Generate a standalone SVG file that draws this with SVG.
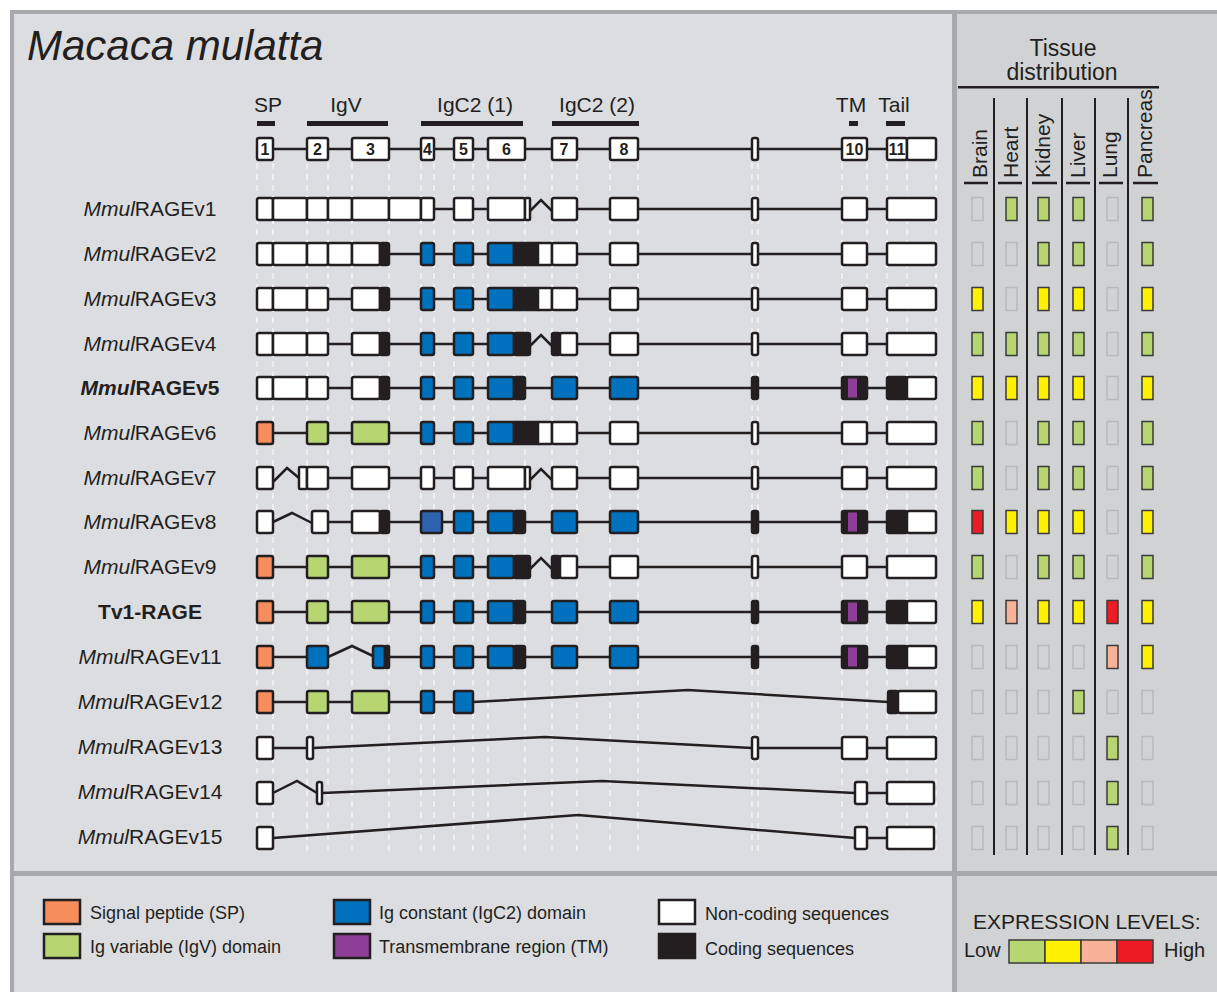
<svg xmlns="http://www.w3.org/2000/svg" width="1217" height="992" viewBox="0 0 1217 992">
<style>
text{font-family:"Liberation Sans",Arial,sans-serif;fill:#231f20}
.lab{font-size:21px;text-anchor:middle}
.hd{font-size:21px;text-anchor:middle}
.num{font-family:"Liberation Sans Narrow","Liberation Sans",sans-serif;font-size:16px;font-weight:bold;text-anchor:middle}
.e{stroke:#231f20;stroke-width:2.5}
.w{fill:#fff}.k{fill:#231f20}.b{fill:#0071bc}.db{fill:#2f63b0}.g{fill:#b7d672}.o{fill:#f68d5d}.pu{fill:#8e3e97}
.ln{fill:none;stroke:#231f20;stroke-width:2.5}
.gd{stroke:#f4f4f4;stroke-width:1.5;stroke-dasharray:6 5}
.x{stroke:#3a3a3a;stroke-width:1.5}
.xn{fill:none;stroke:#b8b9bb;stroke-width:1.5}
.G{fill:#b7d672}.Y{fill:#fff200}.S{fill:#f9b29a}.R{fill:#ed1c24}
.leg{font-size:18px}
.col{font-size:21px}
</style>
<rect x="0" y="0" width="1217" height="992" fill="#ffffff"/>
<rect x="12" y="12" width="942" height="862" fill="#dcdde0"/>
<rect x="954" y="12" width="263" height="980" fill="#d1d2d4"/>
<rect x="12" y="874" width="942" height="118" fill="#dcdde0"/>
<rect x="10" y="10" width="1207" height="4" fill="#a7a9ac"/>
<rect x="10" y="10" width="4" height="982" fill="#a7a9ac"/>
<rect x="952" y="10" width="5" height="982" fill="#a7a9ac"/>
<rect x="10" y="871" width="1207" height="5" fill="#a7a9ac"/>

<text x="27" y="60" font-size="42" font-style="italic">Macaca mulatta</text>

<g id="guides">
<path class="gd" d="M257 163V853M273 163V853M307 163V853M328 163V853M352 163V853M389 163V853M421 163V853M434 163V853M454 163V853M473 163V853M488 163V853M525 163V853M552 163V853M577 163V853M610 163V853M638 163V853M752 163V853M758 163V853M842 163V853M867 163V853M887 163V853M907 163V853M936 163V853"/>
</g>

<g id="domain-header">
<text class="hd" x="268" y="112">SP</text>
<text class="hd" x="346" y="112">IgV</text>
<text class="hd" x="475" y="112">IgC2 (1)</text>
<text class="hd" x="597" y="112">IgC2 (2)</text>
<text class="hd" x="851" y="112">TM</text>
<text class="hd" x="894" y="112">Tail</text>
<rect x="257" y="121" width="18" height="5" fill="#231f20"/>
<rect x="307" y="121" width="81" height="5" fill="#231f20"/>
<rect x="421" y="121" width="102" height="5" fill="#231f20"/>
<rect x="552" y="121" width="87" height="5" fill="#231f20"/>
<rect x="849" y="121" width="9" height="5" fill="#231f20"/>
<rect x="886" y="121" width="19" height="5" fill="#231f20"/>
</g>

<g id="connectors">
<path class="ln" d="M273 149H307M328 149H352M389 149H421M434 149H454M473 149H488M525 149H552M577 149H610M638 149H752M758 149H842M867 149H887"/>
<path class="ln" d="M434 209H454M473 209H488M530 211L541 200L552 211M577 209H610M638 209H752M758 209H842M867 209H887"/>
<path class="ln" d="M389 254H421M434 254H454M473 254H488M577 254H610M638 254H752M758 254H842M867 254H887"/>
<path class="ln" d="M328 299H352M389 299H421M434 299H454M473 299H488M577 299H610M638 299H752M758 299H842M867 299H887"/>
<path class="ln" d="M328 344H352M389 344H421M434 344H454M473 344H488M530 346L541 335L552 346M577 344H610M638 344H752M758 344H842M867 344H887"/>
<path class="ln" d="M328 388H352M389 388H421M434 388H454M473 388H488M525 388H552M577 388H610M638 388H752M758 388H842M867 388H887"/>
<path class="ln" d="M273 433H307M328 433H352M389 433H421M434 433H454M473 433H488M577 433H610M638 433H752M758 433H842M867 433H887"/>
<path class="ln" d="M273 482L287 468L299 478M328 478H352M389 478H421M434 478H454M473 478H488M530 480L541 469L552 480M577 478H610M638 478H752M758 478H842M867 478H887"/>
<path class="ln" d="M273 522L292 513L312 523M328 522H352M389 522H421M442 522H454M473 522H488M525 522H552M577 522H610M638 522H752M758 522H842M867 522H887"/>
<path class="ln" d="M273 567H307M328 567H352M389 567H421M434 567H454M473 567H488M530 569L541 558L552 569M577 567H610M638 567H752M758 567H842M867 567H887"/>
<path class="ln" d="M273 612H307M328 612H352M389 612H421M434 612H454M473 612H488M525 612H552M577 612H610M638 612H752M758 612H842M867 612H887"/>
<path class="ln" d="M273 657H307M328 657L352 646L373 656M389 657H421M434 657H454M473 657H488M525 657H552M577 657H610M638 657H752M758 657H842M867 657H887"/>
<path class="ln" d="M273 702H307M328 702H352" stroke-width="3.5"/>
<path class="ln" d="M389 702H421M434 702H454M473 702L688 690L888 702"/>
<path class="ln" d="M273 748H307M313 748L545 737L752 748M758 748H842M867 748H887"/>
<path class="ln" d="M273 793L297 781L317 793M322 793L602 781L855 793M867 793H887"/>
<path class="ln" d="M273 838L578 815L855 838M867 838H887"/>
</g>

<g id="gene-structure">
<rect class="e w" x="257" y="138" width="16" height="22" rx="2"/>
<rect class="e w" x="307" y="138" width="21" height="22" rx="2"/>
<rect class="e w" x="352" y="138" width="37" height="22" rx="2"/>
<rect class="e w" x="421" y="138" width="13" height="22" rx="2"/>
<rect class="e w" x="454" y="138" width="19" height="22" rx="2"/>
<rect class="e w" x="488" y="138" width="37" height="22" rx="2"/>
<rect class="e w" x="552" y="138" width="25" height="22" rx="2"/>
<rect class="e w" x="610" y="138" width="28" height="22" rx="2"/>
<rect class="e w" x="752" y="138" width="6" height="22" rx="2"/>
<rect class="e w" x="842" y="138" width="25" height="22" rx="2"/>
<rect class="e w" x="887" y="138" width="20" height="22" rx="2"/>
<rect class="e w" x="907" y="138" width="29" height="22" rx="2"/>
<text class="num" x="265" y="155">1</text>
<text class="num" x="317.5" y="155">2</text>
<text class="num" x="370.5" y="155">3</text>
<text class="num" x="427.5" y="155">4</text>
<text class="num" x="463.5" y="155">5</text>
<text class="num" x="506.5" y="155">6</text>
<text class="num" x="564" y="155">7</text>
<text class="num" x="624" y="155">8</text>
<text class="num" x="854.5" y="155">10</text>
<text class="num" x="897" y="155">11</text>
</g>

<g id="v1">
<text class="lab" x="150" y="216"><tspan font-style="italic">Mmul</tspan>RAGEv1</text>
<rect class="e w" x="257" y="198" width="16" height="22" rx="2"/>
<rect class="e w" x="273" y="198" width="34" height="22" rx="2"/>
<rect class="e w" x="307" y="198" width="21" height="22" rx="2"/>
<rect class="e w" x="328" y="198" width="24" height="22" rx="2"/>
<rect class="e w" x="352" y="198" width="37" height="22" rx="2"/>
<rect class="e w" x="389" y="198" width="32" height="22" rx="2"/>
<rect class="e w" x="421" y="198" width="13" height="22" rx="2"/>
<rect class="e w" x="454" y="198" width="19" height="22" rx="2"/>
<rect class="e w" x="488" y="198" width="37" height="22" rx="2"/>
<rect class="e w" x="525" y="198" width="5" height="22" rx="1"/>
<rect class="e w" x="552" y="198" width="25" height="22" rx="2"/>
<rect class="e w" x="610" y="198" width="28" height="22" rx="2"/>
<rect class="e w" x="752" y="198" width="6" height="22" rx="2"/>
<rect class="e w" x="842" y="198" width="25" height="22" rx="2"/>
<rect class="e w" x="887" y="198" width="49" height="22" rx="2"/>
</g>

<g id="v2">
<text class="lab" x="150" y="261"><tspan font-style="italic">Mmul</tspan>RAGEv2</text>
<rect class="e w" x="257" y="243" width="16" height="22" rx="2"/>
<rect class="e w" x="273" y="243" width="34" height="22" rx="2"/>
<rect class="e w" x="307" y="243" width="21" height="22" rx="2"/>
<rect class="e w" x="328" y="243" width="24" height="22" rx="2"/>
<rect class="e w" x="352" y="243" width="28" height="22" rx="2"/>
<rect class="e k" x="380" y="243" width="9" height="22" rx="2"/>
<rect class="e b" x="421" y="243" width="13" height="22" rx="2"/>
<rect class="e b" x="454" y="243" width="19" height="22" rx="2"/>
<rect class="e b" x="488" y="243" width="26" height="22" rx="2"/>
<rect class="e k" x="514" y="243" width="24" height="22"/>
<rect class="e w" x="538" y="243" width="14" height="22" rx="1"/>
<rect class="e w" x="552" y="243" width="25" height="22" rx="2"/>
<rect class="e w" x="610" y="243" width="28" height="22" rx="2"/>
<rect class="e w" x="752" y="243" width="6" height="22" rx="2"/>
<rect class="e w" x="842" y="243" width="25" height="22" rx="2"/>
<rect class="e w" x="887" y="243" width="49" height="22" rx="2"/>
</g>

<g id="v3">
<text class="lab" x="150" y="306"><tspan font-style="italic">Mmul</tspan>RAGEv3</text>
<rect class="e w" x="257" y="288" width="16" height="22" rx="2"/>
<rect class="e w" x="273" y="288" width="34" height="22" rx="2"/>
<rect class="e w" x="307" y="288" width="21" height="22" rx="2"/>
<rect class="e w" x="352" y="288" width="28" height="22" rx="2"/>
<rect class="e k" x="380" y="288" width="9" height="22" rx="2"/>
<rect class="e b" x="421" y="288" width="13" height="22" rx="2"/>
<rect class="e b" x="454" y="288" width="19" height="22" rx="2"/>
<rect class="e b" x="488" y="288" width="26" height="22" rx="2"/>
<rect class="e k" x="514" y="288" width="24" height="22"/>
<rect class="e w" x="538" y="288" width="14" height="22" rx="1"/>
<rect class="e w" x="552" y="288" width="25" height="22" rx="2"/>
<rect class="e w" x="610" y="288" width="28" height="22" rx="2"/>
<rect class="e w" x="752" y="288" width="6" height="22" rx="2"/>
<rect class="e w" x="842" y="288" width="25" height="22" rx="2"/>
<rect class="e w" x="887" y="288" width="49" height="22" rx="2"/>
</g>

<g id="v4">
<text class="lab" x="150" y="351"><tspan font-style="italic">Mmul</tspan>RAGEv4</text>
<rect class="e w" x="257" y="333" width="16" height="22" rx="2"/>
<rect class="e w" x="273" y="333" width="34" height="22" rx="2"/>
<rect class="e w" x="307" y="333" width="21" height="22" rx="2"/>
<rect class="e w" x="352" y="333" width="28" height="22" rx="2"/>
<rect class="e k" x="380" y="333" width="9" height="22" rx="2"/>
<rect class="e b" x="421" y="333" width="13" height="22" rx="2"/>
<rect class="e b" x="454" y="333" width="19" height="22" rx="2"/>
<rect class="e b" x="488" y="333" width="26" height="22" rx="2"/>
<rect class="e k" x="514" y="333" width="16" height="22" rx="2"/>
<rect class="e k" x="552" y="333" width="8" height="22" rx="2"/>
<rect class="e w" x="560" y="333" width="17" height="22" rx="2"/>
<rect class="e w" x="610" y="333" width="28" height="22" rx="2"/>
<rect class="e w" x="752" y="333" width="6" height="22" rx="2"/>
<rect class="e w" x="842" y="333" width="25" height="22" rx="2"/>
<rect class="e w" x="887" y="333" width="49" height="22" rx="2"/>
</g>

<g id="v5">
<text class="lab" x="150" y="395" font-weight="bold"><tspan font-style="italic">Mmul</tspan>RAGEv5</text>
<rect class="e w" x="257" y="377" width="16" height="22" rx="2"/>
<rect class="e w" x="273" y="377" width="34" height="22" rx="2"/>
<rect class="e w" x="307" y="377" width="21" height="22" rx="2"/>
<rect class="e w" x="352" y="377" width="28" height="22" rx="2"/>
<rect class="e k" x="380" y="377" width="9" height="22" rx="2"/>
<rect class="e b" x="421" y="377" width="13" height="22" rx="2"/>
<rect class="e b" x="454" y="377" width="19" height="22" rx="2"/>
<rect class="e b" x="488" y="377" width="26" height="22" rx="2"/>
<rect class="e k" x="514" y="377" width="11" height="22" rx="2"/>
<rect class="e b" x="552" y="377" width="25" height="22" rx="2"/>
<rect class="e b" x="610" y="377" width="28" height="22" rx="2"/>
<rect class="e k" x="752" y="377" width="6" height="22" rx="2"/>
<rect class="e k" x="842" y="377" width="25" height="22" rx="2"/>
<rect class="pu" x="848" y="378.5" width="9" height="19"/>
<rect class="e k" x="887" y="377" width="20" height="22" rx="2"/>
<rect class="e w" x="907" y="377" width="29" height="22" rx="2"/>
</g>

<g id="v6">
<text class="lab" x="150" y="440"><tspan font-style="italic">Mmul</tspan>RAGEv6</text>
<rect class="e o" x="257" y="422" width="16" height="22" rx="2"/>
<rect class="e g" x="307" y="422" width="21" height="22" rx="2"/>
<rect class="e g" x="352" y="422" width="37" height="22" rx="2"/>
<rect class="e b" x="421" y="422" width="13" height="22" rx="2"/>
<rect class="e b" x="454" y="422" width="19" height="22" rx="2"/>
<rect class="e b" x="488" y="422" width="26" height="22" rx="2"/>
<rect class="e k" x="514" y="422" width="24" height="22"/>
<rect class="e w" x="538" y="422" width="14" height="22" rx="1"/>
<rect class="e w" x="552" y="422" width="25" height="22" rx="2"/>
<rect class="e w" x="610" y="422" width="28" height="22" rx="2"/>
<rect class="e w" x="752" y="422" width="6" height="22" rx="2"/>
<rect class="e w" x="842" y="422" width="25" height="22" rx="2"/>
<rect class="e w" x="887" y="422" width="49" height="22" rx="2"/>
</g>

<g id="v7">
<text class="lab" x="150" y="485"><tspan font-style="italic">Mmul</tspan>RAGEv7</text>
<rect class="e w" x="257" y="467" width="16" height="22" rx="2"/>
<rect class="e w" x="299" y="467" width="8" height="22" rx="1"/>
<rect class="e w" x="307" y="467" width="21" height="22" rx="2"/>
<rect class="e w" x="352" y="467" width="37" height="22" rx="2"/>
<rect class="e w" x="421" y="467" width="13" height="22" rx="2"/>
<rect class="e w" x="454" y="467" width="19" height="22" rx="2"/>
<rect class="e w" x="488" y="467" width="37" height="22" rx="2"/>
<rect class="e w" x="525" y="467" width="5" height="22" rx="1"/>
<rect class="e w" x="552" y="467" width="25" height="22" rx="2"/>
<rect class="e w" x="610" y="467" width="28" height="22" rx="2"/>
<rect class="e w" x="752" y="467" width="6" height="22" rx="2"/>
<rect class="e w" x="842" y="467" width="25" height="22" rx="2"/>
<rect class="e w" x="887" y="467" width="49" height="22" rx="2"/>
</g>

<g id="v8">
<text class="lab" x="150" y="529"><tspan font-style="italic">Mmul</tspan>RAGEv8</text>
<rect class="e w" x="257" y="511" width="16" height="22" rx="2"/>
<rect class="e w" x="312" y="511" width="16" height="22" rx="2"/>
<rect class="e w" x="352" y="511" width="28" height="22" rx="2"/>
<rect class="e k" x="380" y="511" width="9" height="22" rx="2"/>
<rect class="e db" x="421" y="511" width="21" height="22" rx="2"/>
<rect class="e b" x="454" y="511" width="19" height="22" rx="2"/>
<rect class="e b" x="488" y="511" width="26" height="22" rx="2"/>
<rect class="e k" x="514" y="511" width="11" height="22" rx="2"/>
<rect class="e b" x="552" y="511" width="25" height="22" rx="2"/>
<rect class="e b" x="610" y="511" width="28" height="22" rx="2"/>
<rect class="e k" x="752" y="511" width="6" height="22" rx="2"/>
<rect class="e k" x="842" y="511" width="25" height="22" rx="2"/>
<rect class="pu" x="848" y="512.5" width="9" height="19"/>
<rect class="e k" x="887" y="511" width="20" height="22" rx="2"/>
<rect class="e w" x="907" y="511" width="29" height="22" rx="2"/>
</g>

<g id="v9">
<text class="lab" x="150" y="574"><tspan font-style="italic">Mmul</tspan>RAGEv9</text>
<rect class="e o" x="257" y="556" width="16" height="22" rx="2"/>
<rect class="e g" x="307" y="556" width="21" height="22" rx="2"/>
<rect class="e g" x="352" y="556" width="37" height="22" rx="2"/>
<rect class="e b" x="421" y="556" width="13" height="22" rx="2"/>
<rect class="e b" x="454" y="556" width="19" height="22" rx="2"/>
<rect class="e b" x="488" y="556" width="26" height="22" rx="2"/>
<rect class="e k" x="514" y="556" width="16" height="22" rx="2"/>
<rect class="e k" x="552" y="556" width="8" height="22" rx="2"/>
<rect class="e w" x="560" y="556" width="17" height="22" rx="2"/>
<rect class="e w" x="610" y="556" width="28" height="22" rx="2"/>
<rect class="e w" x="752" y="556" width="6" height="22" rx="2"/>
<rect class="e w" x="842" y="556" width="25" height="22" rx="2"/>
<rect class="e w" x="887" y="556" width="49" height="22" rx="2"/>
</g>

<g id="tv1-rage">
<text class="lab" x="150" y="619" font-weight="bold">Tv1-RAGE</text>
<rect class="e o" x="257" y="601" width="16" height="22" rx="2"/>
<rect class="e g" x="307" y="601" width="21" height="22" rx="2"/>
<rect class="e g" x="352" y="601" width="37" height="22" rx="2"/>
<rect class="e b" x="421" y="601" width="13" height="22" rx="2"/>
<rect class="e b" x="454" y="601" width="19" height="22" rx="2"/>
<rect class="e b" x="488" y="601" width="26" height="22" rx="2"/>
<rect class="e k" x="514" y="601" width="11" height="22" rx="2"/>
<rect class="e b" x="552" y="601" width="25" height="22" rx="2"/>
<rect class="e b" x="610" y="601" width="28" height="22" rx="2"/>
<rect class="e k" x="752" y="601" width="6" height="22" rx="2"/>
<rect class="e k" x="842" y="601" width="25" height="22" rx="2"/>
<rect class="pu" x="848" y="602.5" width="9" height="19"/>
<rect class="e k" x="887" y="601" width="20" height="22" rx="2"/>
<rect class="e w" x="907" y="601" width="29" height="22" rx="2"/>
</g>

<g id="v11">
<text class="lab" x="150" y="664"><tspan font-style="italic">Mmul</tspan>RAGEv11</text>
<rect class="e o" x="257" y="646" width="16" height="22" rx="2"/>
<rect class="e b" x="307" y="646" width="21" height="22" rx="2"/>
<rect class="e b" x="373" y="646" width="12" height="22" rx="2"/>
<rect class="e k" x="385" y="646" width="4" height="22" rx="1"/>
<rect class="e b" x="421" y="646" width="13" height="22" rx="2"/>
<rect class="e b" x="454" y="646" width="19" height="22" rx="2"/>
<rect class="e b" x="488" y="646" width="26" height="22" rx="2"/>
<rect class="e k" x="514" y="646" width="11" height="22" rx="2"/>
<rect class="e b" x="552" y="646" width="25" height="22" rx="2"/>
<rect class="e b" x="610" y="646" width="28" height="22" rx="2"/>
<rect class="e k" x="752" y="646" width="6" height="22" rx="2"/>
<rect class="e k" x="842" y="646" width="25" height="22" rx="2"/>
<rect class="pu" x="848" y="647.5" width="9" height="19"/>
<rect class="e k" x="887" y="646" width="20" height="22" rx="2"/>
<rect class="e w" x="907" y="646" width="29" height="22" rx="2"/>
</g>

<g id="v12">
<text class="lab" x="150" y="709"><tspan font-style="italic">Mmul</tspan>RAGEv12</text>
<rect class="e o" x="257" y="691" width="16" height="22" rx="2"/>
<rect class="e g" x="307" y="691" width="21" height="22" rx="2"/>
<rect class="e g" x="352" y="691" width="37" height="22" rx="2"/>
<rect class="e b" x="421" y="691" width="13" height="22" rx="2"/>
<rect class="e b" x="454" y="691" width="19" height="22" rx="2"/>
<rect class="e k" x="888" y="691" width="10" height="22" rx="2"/>
<rect class="e w" x="898" y="691" width="38" height="22" rx="2"/>
</g>

<g id="v13">
<text class="lab" x="150" y="754"><tspan font-style="italic">Mmul</tspan>RAGEv13</text>
<rect class="e w" x="257" y="737" width="16" height="22" rx="2"/>
<rect class="e w" x="307" y="737" width="6" height="22" rx="2"/>
<rect class="e w" x="752" y="737" width="6" height="22" rx="2"/>
<rect class="e w" x="842" y="737" width="25" height="22" rx="2"/>
<rect class="e w" x="887" y="737" width="49" height="22" rx="2"/>
</g>

<g id="v14">
<text class="lab" x="150" y="799"><tspan font-style="italic">Mmul</tspan>RAGEv14</text>
<rect class="e w" x="257" y="782" width="16" height="22" rx="2"/>
<rect class="e w" x="317" y="782" width="5" height="22" rx="2"/>
<rect class="e w" x="855" y="782" width="12" height="22" rx="2"/>
<rect class="e w" x="887" y="782" width="47" height="22" rx="2"/>
</g>

<g id="v15">
<text class="lab" x="150" y="844"><tspan font-style="italic">Mmul</tspan>RAGEv15</text>
<rect class="e w" x="257" y="827" width="16" height="22" rx="2"/>
<rect class="e w" x="855" y="827" width="12" height="22" rx="2"/>
<rect class="e w" x="887" y="827" width="47" height="22" rx="2"/>
</g>

<g id="tissue-header">
<text x="1063" y="56" font-size="23" text-anchor="middle">Tissue</text>
<text x="1062" y="80" font-size="23" text-anchor="middle">distribution</text>
<rect x="958" y="86" width="201" height="2.5" fill="#231f20"/>
<text class="col" transform="translate(987,178) rotate(-90)">Brain</text>
<text class="col" transform="translate(1018,178) rotate(-90)">Heart</text>
<text class="col" transform="translate(1050,178) rotate(-90)">Kidney</text>
<text class="col" transform="translate(1085,178) rotate(-90)">Liver</text>
<text class="col" transform="translate(1117,178) rotate(-90)">Lung</text>
<text class="col" transform="translate(1152,178) rotate(-90)">Pancreas</text>
<path d="M964 183H988M998 183H1022M1032 183H1057M1066 183H1090M1099 183H1123M1133 183H1158" stroke="#231f20" stroke-width="2.5"/>
<path d="M994 98V855M1027 98V855M1062 98V855M1095 98V855M1128 98V855" stroke="#231f20" stroke-width="2"/>
</g>

<g id="expression">
<g transform="translate(0,197.5)">
<rect class="xn" x="972" width="11" height="23"/><rect class="x G" x="1006" width="11" height="23"/><rect class="x G" x="1038" width="11" height="23"/><rect class="x G" x="1073" width="11" height="23"/><rect class="xn" x="1107" width="11" height="23"/><rect class="x G" x="1142" width="11" height="23"/>
</g>
<g transform="translate(0,242.5)">
<rect class="xn" x="972" width="11" height="23"/><rect class="xn" x="1006" width="11" height="23"/><rect class="x G" x="1038" width="11" height="23"/><rect class="x G" x="1073" width="11" height="23"/><rect class="xn" x="1107" width="11" height="23"/><rect class="x G" x="1142" width="11" height="23"/>
</g>
<g transform="translate(0,287.5)">
<rect class="x Y" x="972" width="11" height="23"/><rect class="xn" x="1006" width="11" height="23"/><rect class="x Y" x="1038" width="11" height="23"/><rect class="x Y" x="1073" width="11" height="23"/><rect class="xn" x="1107" width="11" height="23"/><rect class="x Y" x="1142" width="11" height="23"/>
</g>
<g transform="translate(0,332.5)">
<rect class="x G" x="972" width="11" height="23"/><rect class="x G" x="1006" width="11" height="23"/><rect class="x G" x="1038" width="11" height="23"/><rect class="x G" x="1073" width="11" height="23"/><rect class="xn" x="1107" width="11" height="23"/><rect class="x G" x="1142" width="11" height="23"/>
</g>
<g transform="translate(0,376.5)">
<rect class="x Y" x="972" width="11" height="23"/><rect class="x Y" x="1006" width="11" height="23"/><rect class="x Y" x="1038" width="11" height="23"/><rect class="x Y" x="1073" width="11" height="23"/><rect class="xn" x="1107" width="11" height="23"/><rect class="x Y" x="1142" width="11" height="23"/>
</g>
<g transform="translate(0,421.5)">
<rect class="x G" x="972" width="11" height="23"/><rect class="xn" x="1006" width="11" height="23"/><rect class="x G" x="1038" width="11" height="23"/><rect class="x G" x="1073" width="11" height="23"/><rect class="xn" x="1107" width="11" height="23"/><rect class="x G" x="1142" width="11" height="23"/>
</g>
<g transform="translate(0,466.5)">
<rect class="x G" x="972" width="11" height="23"/><rect class="xn" x="1006" width="11" height="23"/><rect class="x G" x="1038" width="11" height="23"/><rect class="x G" x="1073" width="11" height="23"/><rect class="xn" x="1107" width="11" height="23"/><rect class="x G" x="1142" width="11" height="23"/>
</g>
<g transform="translate(0,510.5)">
<rect class="x R" x="972" width="11" height="23"/><rect class="x Y" x="1006" width="11" height="23"/><rect class="x Y" x="1038" width="11" height="23"/><rect class="x Y" x="1073" width="11" height="23"/><rect class="xn" x="1107" width="11" height="23"/><rect class="x Y" x="1142" width="11" height="23"/>
</g>
<g transform="translate(0,555.5)">
<rect class="x G" x="972" width="11" height="23"/><rect class="xn" x="1006" width="11" height="23"/><rect class="x G" x="1038" width="11" height="23"/><rect class="x G" x="1073" width="11" height="23"/><rect class="xn" x="1107" width="11" height="23"/><rect class="x G" x="1142" width="11" height="23"/>
</g>
<g transform="translate(0,600.5)">
<rect class="x Y" x="972" width="11" height="23"/><rect class="x S" x="1006" width="11" height="23"/><rect class="x Y" x="1038" width="11" height="23"/><rect class="x Y" x="1073" width="11" height="23"/><rect class="x R" x="1107" width="11" height="23"/><rect class="x Y" x="1142" width="11" height="23"/>
</g>
<g transform="translate(0,645.5)">
<rect class="xn" x="972" width="11" height="23"/><rect class="xn" x="1006" width="11" height="23"/><rect class="xn" x="1038" width="11" height="23"/><rect class="xn" x="1073" width="11" height="23"/><rect class="x S" x="1107" width="11" height="23"/><rect class="x Y" x="1142" width="11" height="23"/>
</g>
<g transform="translate(0,690.5)">
<rect class="xn" x="972" width="11" height="23"/><rect class="xn" x="1006" width="11" height="23"/><rect class="xn" x="1038" width="11" height="23"/><rect class="x G" x="1073" width="11" height="23"/><rect class="xn" x="1107" width="11" height="23"/><rect class="xn" x="1142" width="11" height="23"/>
</g>
<g transform="translate(0,736.5)">
<rect class="xn" x="972" width="11" height="23"/><rect class="xn" x="1006" width="11" height="23"/><rect class="xn" x="1038" width="11" height="23"/><rect class="xn" x="1073" width="11" height="23"/><rect class="x G" x="1107" width="11" height="23"/><rect class="xn" x="1142" width="11" height="23"/>
</g>
<g transform="translate(0,781.5)">
<rect class="xn" x="972" width="11" height="23"/><rect class="xn" x="1006" width="11" height="23"/><rect class="xn" x="1038" width="11" height="23"/><rect class="xn" x="1073" width="11" height="23"/><rect class="x G" x="1107" width="11" height="23"/><rect class="xn" x="1142" width="11" height="23"/>
</g>
<g transform="translate(0,826.5)">
<rect class="xn" x="972" width="11" height="23"/><rect class="xn" x="1006" width="11" height="23"/><rect class="xn" x="1038" width="11" height="23"/><rect class="xn" x="1073" width="11" height="23"/><rect class="x G" x="1107" width="11" height="23"/><rect class="xn" x="1142" width="11" height="23"/>
</g>
</g>

<g id="legend">
<rect class="e o" x="44" y="900" width="36" height="24"/>
<text class="leg" x="90" y="919">Signal peptide (SP)</text>
<rect class="e g" x="44" y="934" width="36" height="24"/>
<text class="leg" x="90" y="953">Ig variable (IgV) domain</text>
<rect class="e b" x="334" y="900" width="36" height="24"/>
<text class="leg" x="379" y="919">Ig constant (IgC2) domain</text>
<rect class="e pu" x="334" y="934" width="36" height="24"/>
<text class="leg" x="379" y="953">Transmembrane region (TM)</text>
<rect class="e w" x="659" y="900" width="36" height="24"/>
<text class="leg" x="705" y="920">Non-coding sequences</text>
<rect class="e k" x="659" y="934" width="36" height="24"/>
<text class="leg" x="705" y="955">Coding sequences</text>
</g>

<g id="expression-legend">
<text x="973" y="929" font-size="21">EXPRESSION LEVELS:</text>
<text x="964" y="957" font-size="20">Low</text>
<rect class="x G" x="1009" y="940" width="36" height="23"/>
<rect class="x Y" x="1045" y="940" width="36" height="23"/>
<rect class="x S" x="1081" y="940" width="36" height="23"/>
<rect class="x R" x="1117" y="940" width="36" height="23"/>
<text x="1164" y="957" font-size="20">High</text>
</g>
</svg>
